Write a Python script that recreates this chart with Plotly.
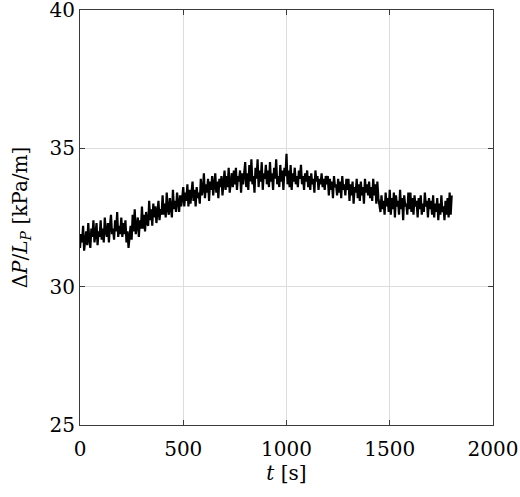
import plotly.graph_objects as go

# time in seconds (5 s sampling)
t_start = 0
t_step = 5

dp_values = [
    31.4, 31.9, 31.6, 32.2, 31.3, 31.8, 32.0, 31.5, 32.3, 31.7, 31.4, 32.1, 31.8, 32.4, 31.6, 31.9, 32.3, 31.5, 32.0, 31.8,
    32.4, 31.7, 32.1, 31.6, 32.5, 32.0, 31.8, 32.3, 31.6, 32.2, 32.6, 31.9, 32.1, 31.7, 32.4, 32.0, 32.7, 31.8, 32.2, 31.9,
    32.5, 31.8, 32.3, 31.9, 32.4, 31.6, 32.0, 31.4, 31.9, 32.2, 31.7, 32.6, 32.0, 32.8, 31.9, 32.3, 32.5, 31.8, 32.4, 32.1,
    32.9, 32.1, 32.6, 32.0, 32.7, 32.3, 32.2, 33.1, 32.4, 32.8, 32.2, 33.0, 32.5, 32.9, 32.3, 32.7, 33.1, 32.4, 32.8, 32.6,
    33.3, 32.6, 33.0, 32.5, 33.4, 32.8, 32.6, 33.2, 32.9, 32.5, 33.5, 32.8, 33.1, 32.7, 33.4, 33.0, 32.7, 33.3, 32.9, 33.2,
    33.6, 32.9, 33.4, 33.1, 33.7, 32.9, 33.5, 33.0, 33.3, 33.8, 33.1, 33.5, 32.9, 33.6, 33.2, 33.4, 33.0, 33.9, 33.3, 33.5,
    34.1, 33.2, 33.7, 33.4, 33.9, 33.1, 33.8, 33.5, 34.0, 33.3, 33.7, 34.1, 33.4, 33.8, 33.2, 33.9, 33.6, 34.0, 33.3, 33.7,
    34.2, 33.5, 34.0, 33.6, 34.3, 33.4, 33.9, 34.1, 33.6, 34.2, 33.7, 34.3, 33.5, 34.0, 33.8, 34.2, 33.4, 34.1, 33.7, 34.0,
    34.5, 33.6, 34.1, 33.5, 34.4, 33.8, 34.6, 33.7, 34.0, 33.4, 34.3, 33.9, 34.6, 33.6, 34.2, 33.8, 34.5, 33.5, 34.1, 33.9,
    34.4, 33.7, 34.2, 33.6, 34.5, 33.8, 34.1, 33.5, 34.3, 33.9, 34.6, 33.7, 34.0, 33.6, 34.4, 33.8, 34.2, 33.5, 34.3, 34.0,
    34.8, 33.7, 34.2, 33.6, 34.4, 33.5, 34.1, 33.8, 34.3, 33.7, 34.0, 33.6, 34.2, 33.9, 34.4, 33.7, 34.0, 33.5, 34.1, 33.8,
    34.2, 33.6, 34.0, 33.5, 34.1, 33.7, 33.9, 33.4, 34.2, 33.8, 34.0, 33.5, 33.9, 33.7, 34.1, 33.6, 33.9, 33.5, 34.0, 33.7,
    34.0, 33.3, 33.9, 33.5, 33.8, 33.2, 34.0, 33.6, 33.7, 33.3, 33.9, 33.4, 33.8, 33.2, 34.0, 33.5, 33.7, 33.3, 33.9, 33.5,
    33.9, 33.1, 33.7, 33.3, 33.8, 33.0, 33.6, 33.4, 33.9, 33.2, 33.7, 33.1, 33.8, 33.3, 33.6, 33.0, 33.9, 33.4, 33.7, 33.3,
    33.8, 33.2, 33.6, 33.1, 33.9, 33.3, 33.7, 33.0, 33.8, 33.2, 33.0, 32.7, 33.3, 32.8, 33.1, 32.6, 33.4, 32.9, 33.2, 32.7,
    33.5, 32.6, 33.2, 32.8, 33.4, 32.5, 33.3, 32.9, 33.1, 32.6, 33.5, 32.8, 33.2, 32.4, 33.3, 32.9, 33.0, 32.6, 33.4, 32.8,
    33.4, 32.7, 33.2, 32.6, 33.3, 32.9, 33.1, 32.5, 33.2, 32.8, 33.3, 32.6, 33.0, 32.7, 33.4, 32.9, 33.1, 32.5, 33.2, 32.8,
    33.1, 32.6, 33.3, 32.5, 33.0, 32.7, 33.2, 32.4, 33.0, 32.6, 33.3, 32.7, 32.9, 32.4, 33.1, 32.6, 33.2, 32.5, 33.4, 32.6,
    33.3,
]
t_values = [t_start + i * t_step for i in range(len(dp_values))]

x_ticks = [0, 500, 1000, 1500, 2000]
y_ticks = [25, 30, 35, 40]

font_family = "DejaVu Serif"
axis_color = "#3a3a3a"
grid_color = "#dcdcdc"

fig = go.Figure()
fig.add_trace(go.Scatter(
    x=t_values, y=dp_values, mode="lines",
    line=dict(color="black", width=2.2),
    showlegend=False,
))

fig.update_layout(
    width=520, height=497,
    margin=dict(l=80, r=27, t=10, b=72),
    paper_bgcolor="white", plot_bgcolor="white",
    font=dict(family=font_family, size=20, color="black"),
)
fig.update_xaxes(
    range=[0, 2000], tickvals=x_ticks,
    showline=True, linecolor=axis_color, linewidth=1, mirror="ticks",
    ticks="inside", ticklen=5, tickcolor=axis_color,
    showgrid=True, gridcolor=grid_color, gridwidth=1,
    zeroline=False, ticklabeloverflow="allow", automargin=False,
    ticklabelstandoff=6,
    tickfont=dict(family=font_family, size=20),
    title=dict(text="<i>t</i> [s]", standoff=4, font=dict(family=font_family, size=20)),
)
fig.update_yaxes(
    range=[25, 40], tickvals=y_ticks,
    showline=True, linecolor=axis_color, linewidth=1, mirror="ticks",
    ticks="inside", ticklen=5, tickcolor=axis_color,
    showgrid=True, gridcolor=grid_color, gridwidth=1,
    zeroline=False, ticklabeloverflow="allow", automargin=False,
    tickfont=dict(family=font_family, size=20),
    title=dict(text="Δ<i>P</i>/<i>L</i><sub><i>P</i></sub> [kPa/m]", standoff=16,
               font=dict(family=font_family, size=20)),
)

fig.write_html("out.html")
